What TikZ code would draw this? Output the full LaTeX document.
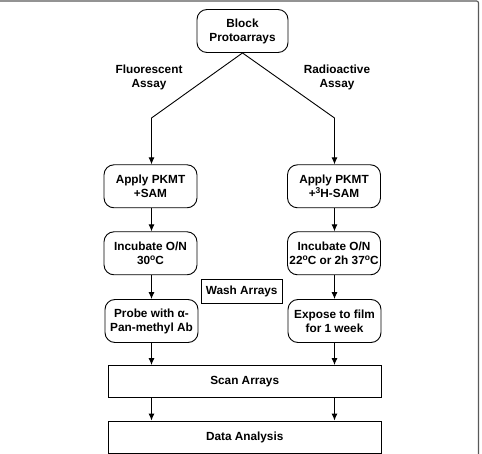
\documentclass[tikz,border=0pt]{standalone}
\usepackage{fontspec}
\setmainfont{Liberation Sans}
\usetikzlibrary{arrows.meta}
\newcommand{\supr}[1]{\raisebox{0.38em}{\fontsize{8.5}{8}\selectfont #1}}
\begin{document}
\begin{tikzpicture}[x=1pt,y=-1pt,
  every node/.style={font=\fontsize{11.8}{14}\selectfont\bfseries, align=center, inner sep=0pt},
  proc/.style={draw, rounded corners=10pt, minimum width=93pt, minimum height=43pt, line width=0.9pt},
  wide/.style={draw, minimum width=273pt, minimum height=32pt, line width=0.9pt},
  lbl/.style={},
  arr/.style={line width=0.9pt, -{Latex[length=7pt,width=6pt]}},
  frameline/.style={draw=black!65, line width=1.2pt}]
\useasboundingbox (0,0) rectangle (482,454);
\draw[frameline, rounded corners=2pt] (0,1) -- (478.5,1) -- (478.5,455);

\node[proc, minimum width=91pt] (block) at (242.5,31) {Block\\Protoarrays};
\node[lbl] (fl) at (149,77.5) {Fluorescent\\Assay};
\node[lbl] (ra) at (337,77.5) {Radioactive\\Assay};

\node[proc] (applyL) at (150.5,186.3) {Apply PKMT\\+SAM};
\node[proc] (applyR) at (334,186.3) {Apply PKMT\\+\supr{3}H-SAM};
\node[proc] (incL) at (150.5,253.3) {Incubate O/N\\30\supr{o}C};
\node[proc] (incR) at (334,253.3) {Incubate O/N\\22\supr{o}C or 2h 37\supr{o}C};
\node[draw, line width=0.9pt, minimum width=81pt, minimum height=24pt] (wash) at (241.7,291.3) {Wash Arrays};
\node[proc] (probe) at (151.5,321) {Probe with α-\\Pan-methyl Ab};
\node[proc] (expose) at (334.5,321) {Expose to film\\for 1 week};
\node[wide] (scan) at (244.7,381.5) {Scan Arrays};
\node[wide] (data) at (244.7,437) {Data Analysis};

\coordinate (cL) at (151.5,118);
\coordinate (cR) at (334.5,118);
\draw[arr] (block.south) -- (cL) -- (cL |- applyL.north);
\draw[arr] (block.south) -- (cR) -- (cR |- applyR.north);
\draw[arr] (applyL.south -| cL) -- (incL.north -| cL);
\draw[arr] (applyR.south -| cR) -- (incR.north -| cR);
\draw[arr] (incL.south -| cL) -- (probe.north -| cL);
\draw[arr] (incR.south -| cR) -- (expose.north -| cR);
\draw[arr] (probe.south -| cL) -- (scan.north -| cL);
\draw[arr] (expose.south -| cR) -- (scan.north -| cR);
\draw[arr] (scan.south -| cL) -- (data.north -| cL);
\draw[arr] (scan.south -| cR) -- (data.north -| cR);
\end{tikzpicture}
\end{document}
